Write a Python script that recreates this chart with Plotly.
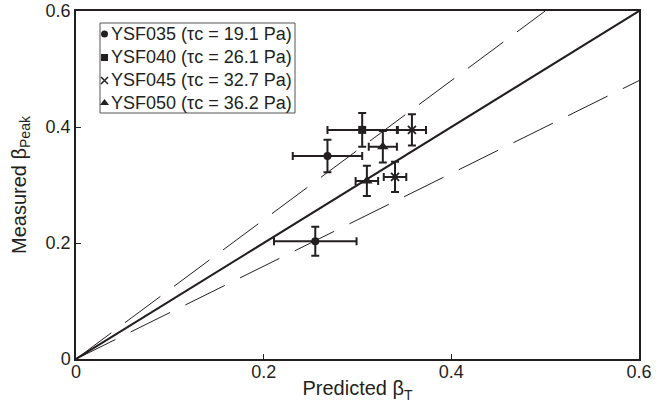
import plotly.graph_objects as go

# ---- data ----
series_names = ["YSF035 (τc = 19.1 Pa)", "YSF040 (τc = 26.1 Pa)",
                "YSF045 (τc = 32.7 Pa)", "YSF050 (τc = 36.2 Pa)"]
ysf035_x = [0.268, 0.255]
ysf035_y = [0.350, 0.203]
ysf035_xerr = [0.037, 0.044]
ysf035_yerr = [0.028, 0.025]

ysf040_x = [0.305]
ysf040_y = [0.395]
ysf040_xerr = [0.037]
ysf040_yerr = [0.029]

ysf045_x = [0.358, 0.340]
ysf045_y = [0.395, 0.314]
ysf045_xerr = [0.015, 0.012]
ysf045_yerr = [0.027, 0.026]

ysf050_x = [0.327, 0.310]
ysf050_y = [0.366, 0.307]
ysf050_xerr = [0.015, 0.012]
ysf050_yerr = [0.027, 0.026]

line_x = [0.0, 0.6]
upper_slope = 1.2
lower_slope = 0.8
x_ticks = [0, 0.2, 0.4, 0.6]
y_ticks = [0, 0.2, 0.4, 0.6]
tick_text = ["0", "0.2", "0.4", "0.6"]

INK = "#231f20"
FONT = "Liberation Sans, Arial, sans-serif"

L, R, T, B = 76, 28, 11, 49
W, H = 667, 408
pw, ph = W - L - R, H - T - B
AX_MAX = 0.6
def px_x(px): return (px - L) / pw
def px_y(py): return (H - B - py) / ph

fig = go.Figure()

# reference lines
fig.add_trace(go.Scatter(x=line_x, y=line_x, mode="lines",
                         line=dict(color=INK, width=2), hoverinfo="skip"))
ux = [0.0, 0.6 / upper_slope]
fig.add_trace(go.Scatter(x=ux, y=[v * upper_slope for v in ux], mode="lines",
                         line=dict(color=INK, width=1, dash="44px,17px"), hoverinfo="skip"))
fig.add_trace(go.Scatter(x=line_x, y=[v * lower_slope for v in line_x], mode="lines",
                         line=dict(color=INK, width=1, dash="44px,17px"), hoverinfo="skip"))

symbols = ["circle", "square", "x-thin", "triangle-up"]
sizes = [8, 8, 8, 10]
mlines = [0, 0, 1.8, 0]
data = [(ysf035_x, ysf035_y, ysf035_xerr, ysf035_yerr),
        (ysf040_x, ysf040_y, ysf040_xerr, ysf040_yerr),
        (ysf045_x, ysf045_y, ysf045_xerr, ysf045_yerr),
        (ysf050_x, ysf050_y, ysf050_xerr, ysf050_yerr)]

for name, (xs, ys, xe, ye), sym, sz, ml in zip(series_names, data, symbols, sizes, mlines):
    fig.add_trace(go.Scatter(
        x=xs, y=ys, mode="markers", name=name,
        marker=dict(symbol=sym, size=sz, color=INK, line=dict(color=INK, width=ml)),
        error_x=dict(type="data", array=xe, color=INK, thickness=2, width=4),
        error_y=dict(type="data", array=ye, color=INK, thickness=2, width=4),
    ))

# legend: box, marker samples and texts (legend box lies inside the plot area)
fig.add_shape(type="rect", xref="paper", yref="paper",
              x0=px_x(100), x1=px_x(295), y0=px_y(113), y1=px_y(23),
              line=dict(color="#555", width=1), layer="below")
rows_py = [34, 57.5, 80.5, 103]
leg_sizes = [7, 7, 7, 8]
for name, sym, sz, ml, py in zip(series_names, symbols, leg_sizes, mlines, rows_py):
    fig.add_trace(go.Scatter(
        x=[px_x(104.5) * AX_MAX], y=[px_y(py) * AX_MAX], mode="markers",
        marker=dict(symbol=sym, size=sz, color=INK, line=dict(color=INK, width=ml * 0.8)),
        hoverinfo="skip"))
    fig.add_annotation(xref="paper", yref="paper", x=px_x(108.5), y=px_y(py),
                       xanchor="left", yanchor="middle", showarrow=False,
                       text=name, font=dict(family=FONT, size=18, color=INK))

axis_common = dict(
    range=[0, AX_MAX], showgrid=False, zeroline=False, showline=True,
    linecolor=INK, linewidth=1.5, mirror=True, ticks="inside", ticklen=5,
    tickwidth=1, tickcolor=INK, tickfont=dict(family=FONT, size=18, color=INK),
)
fig.update_xaxes(**axis_common, tickvals=x_ticks, ticktext=tick_text, ticklabelstandoff=-4,
                 title=dict(text="Predicted β<sub>T</sub>", font=dict(family=FONT, size=20, color=INK), standoff=0))
fig.update_yaxes(**axis_common, tickvals=y_ticks, ticktext=tick_text,
                 title=dict(text="Measured β<sub>Peak</sub>", font=dict(family=FONT, size=20, color=INK), standoff=14))

fig.update_layout(
    width=W, height=H, margin=dict(l=L, r=R, t=T, b=B, autoexpand=False),
    plot_bgcolor="white", paper_bgcolor="white", showlegend=False,
    font=dict(family=FONT, color=INK),
)

fig.write_html("out.html")
